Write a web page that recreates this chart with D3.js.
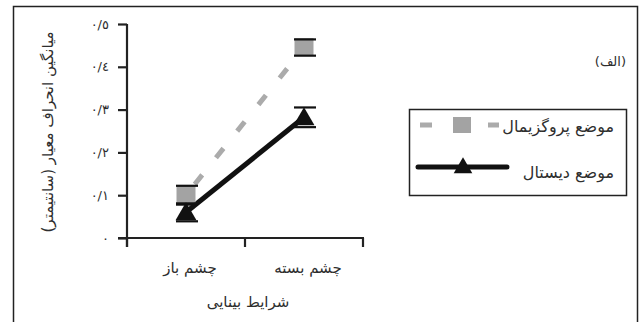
<!DOCTYPE html>
<html>
<head>
<meta charset="utf-8">
<script src="https://cdn.jsdelivr.net/npm/d3@7"></script>
<style>
  html, body { margin: 0; padding: 0; background: #fff; }
  svg { display: block; }
  text { font-family: "DejaVu Sans", sans-serif; fill: #2e2e2e; }
</style>
</head>
<body>
<svg id="chart" width="644" height="322"></svg>
<script>
// Visual conditions on the x axis
const categories = ["چشم باز", "چشم بسته"];
// Mean standard deviation (cm) per position
const proximal = [0.10, 0.445];
const distal = [0.06, 0.282];
// Error bar half-lengths
const proximalErr = [0.022, 0.019];
const distalErr = [0.021, 0.023];
// Y tick values and their labels
const yTicks = [0, 0.1, 0.2, 0.3, 0.4, 0.5];
const yTickLabels = ["٠", "٠/١", "٠/٢", "٠/٣", "٠/٤", "٠/٥"];
const seriesNames = ["موضع پروگزیمال", "موضع دیستال"];
const yTitle = "میانگین انحراف معیار (سانتیمتر)";
const xTitle = "شرایط بینایی";
const panelLabel = "(الف)";

const svg = d3.select("#chart");

// Outer frame
svg.append("rect")
  .attr("x", 13.5).attr("y", 6.5)
  .attr("width", 624).attr("height", 330)
  .attr("fill", "none").attr("stroke", "#222").attr("stroke-width", 1.5);

const x = d3.scaleBand().domain(categories).range([127, 363]).padding(0);
const y = d3.scaleLinear().domain([0, 0.5]).range([238, 24]);
const cx = d => x(d) + x.bandwidth() / 2;

// Y axis
const yAxis = svg.append("g").attr("transform", "translate(127,0)")
  .call(d3.axisLeft(y).tickValues(yTicks).tickSize(9).tickFormat((d, i) => yTickLabels[i]));
yAxis.select(".domain").attr("stroke", "#222").attr("stroke-width", 2.2)
  .attr("d", `M0,${y(0.5)}V247`);
yAxis.selectAll(".tick line").attr("stroke", "#222").attr("stroke-width", 2.2);
yAxis.selectAll(".tick text")
  .attr("x", -18).attr("direction", "ltr")
  .style("font-size", "13px").style("fill", "#2e2e2e");

// X axis, with ticks at the band edges
const xAxisG = svg.append("g").attr("transform", `translate(0,${y(0)})`);
xAxisG.append("line").attr("x1", 118).attr("x2", 364).attr("y1", 0).attr("y2", 0)
  .attr("stroke", "#222").attr("stroke-width", 2.2);
const edges = [x.range()[0], x(categories[1]), x.range()[1]];
xAxisG.selectAll("line.edge").data(edges).enter().append("line")
  .attr("class", "edge")
  .attr("x1", d => d).attr("x2", d => d).attr("y1", 0).attr("y2", 9)
  .attr("stroke", "#222").attr("stroke-width", 2.2);
xAxisG.selectAll("text.cat").data(categories).enter().append("text")
  .attr("class", "cat")
  .attr("x", d => cx(d) + 4).attr("y", 35)
  .attr("text-anchor", "middle").attr("direction", "rtl")
  .style("font-size", "15px")
  .text(d => d);

// Axis titles
svg.append("text")
  .attr("x", 248).attr("y", 307)
  .attr("text-anchor", "middle").attr("direction", "rtl")
  .style("font-size", "15px").text(xTitle);
svg.append("text")
  .attr("transform", "translate(53,132) rotate(-90)")
  .attr("text-anchor", "middle").attr("direction", "rtl")
  .style("font-size", "15px").text(yTitle);

// Panel label
svg.append("text")
  .attr("x", 626).attr("y", 66)
  .attr("text-anchor", "end").attr("direction", "ltr")
  .style("font-size", "13px").text(panelLabel);

const grey = "#a3a3a3";

// Series lines
const line = d3.line().x((d, i) => cx(categories[i])).y(d => y(d));
svg.append("path").datum(proximal).attr("d", line)
  .attr("fill", "none").attr("stroke", "#ababab").attr("stroke-width", 5)
  .attr("stroke-dasharray", "12,22").attr("stroke-dashoffset", -14);
svg.append("path").datum(distal).attr("d", line)
  .attr("fill", "none").attr("stroke", "#111").attr("stroke-width", 5);

// Square markers
const sq = 19;
svg.selectAll("rect.prox").data(proximal).enter().append("rect")
  .attr("class", "prox")
  .attr("x", (d, i) => cx(categories[i]) - sq / 2)
  .attr("y", d => y(d) - sq / 2)
  .attr("width", sq).attr("height", sq - 2)
  .attr("fill", grey);

// Triangle markers
const tri = d3.symbol().type(d3.symbolTriangle).size(190);
svg.selectAll("path.dist").data(distal).enter().append("path")
  .attr("class", "dist")
  .attr("transform", (d, i) => `translate(${cx(categories[i])},${y(d) + 2})`)
  .attr("d", tri).attr("fill", "#111");

// Error bars
function errorBars(values, errs, cls) {
  const g = svg.append("g");
  values.forEach((v, i) => {
    const c = cx(categories[i]);
    [v + errs[i], v - errs[i]].forEach(e => {
      g.append("line").attr("class", cls)
        .attr("x1", c - 10).attr("x2", c + 12)
        .attr("y1", y(e)).attr("y2", y(e))
        .attr("stroke", "#111").attr("stroke-width", 2.2);
    });
  });
}
errorBars(proximal, proximalErr, "err-prox");
errorBars(distal, distalErr, "err-dist");

// Legend
const legend = svg.append("g");
legend.append("rect")
  .attr("x", 409.5).attr("y", 109.5).attr("width", 217).attr("height", 86)
  .attr("fill", "none").attr("stroke", "#222").attr("stroke-width", 1.5);
legend.append("line")
  .attr("x1", 420).attr("x2", 499).attr("y1", 125).attr("y2", 125)
  .attr("stroke", "#ababab").attr("stroke-width", 5)
  .attr("stroke-dasharray", "12,22").attr("stroke-dashoffset", 0);
legend.append("rect")
  .attr("x", 453).attr("y", 117).attr("width", 18).attr("height", 16)
  .attr("fill", grey);
legend.append("line")
  .attr("x1", 418).attr("x2", 507).attr("y1", 167).attr("y2", 167)
  .attr("stroke", "#111").attr("stroke-width", 5).attr("stroke-linecap", "round");
legend.append("path")
  .attr("transform", "translate(463,168)")
  .attr("d", d3.symbol().type(d3.symbolTriangle).size(150)).attr("fill", "#111");
legend.selectAll("text.leg").data(seriesNames).enter().append("text")
  .attr("class", "leg")
  .attr("x", 614).attr("y", (d, i) => i === 0 ? 132 : 178)
  .attr("text-anchor", "start").attr("direction", "rtl")
  .style("font-size", "16px")
  .text(d => d);
</script>
</body>
</html>
